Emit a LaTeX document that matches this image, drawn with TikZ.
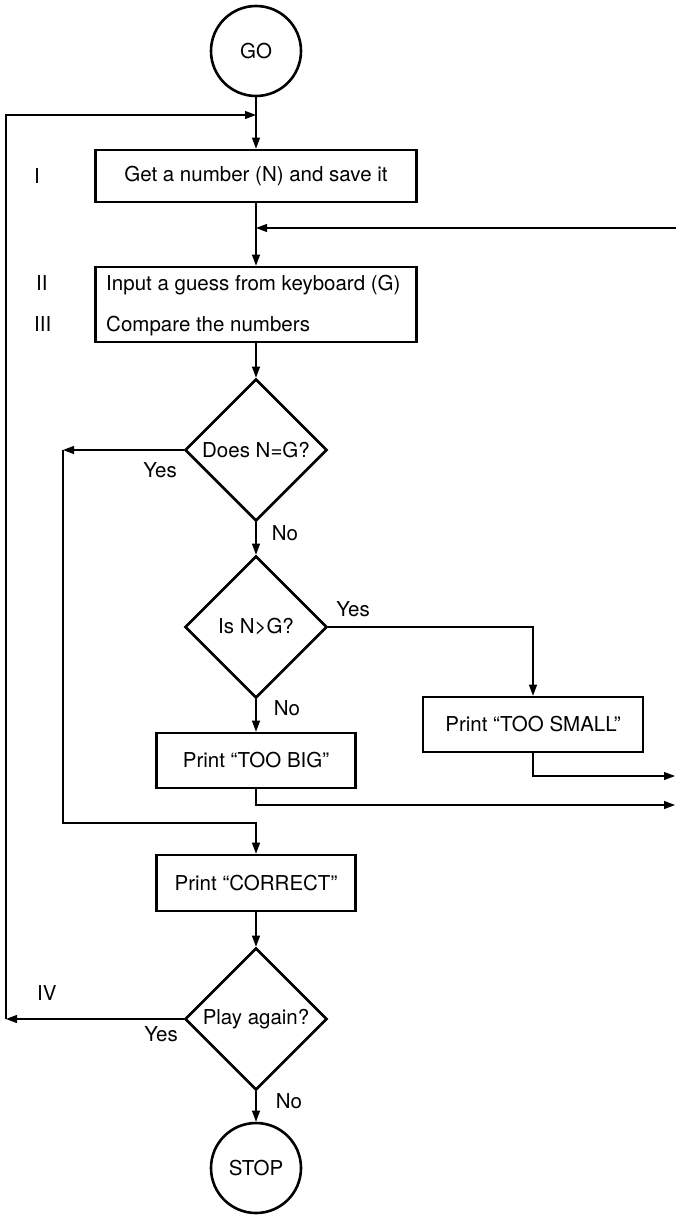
\documentclass[tikz,border=0pt]{standalone}
\usepackage{fontspec}
\setmainfont{TeX Gyre Heros}
\usetikzlibrary{shapes.geometric,arrows.meta}

\begin{document}
\begin{tikzpicture}[x=1pt,y=-1pt,
  every node/.style={font=\fontsize{20.5}{24}\selectfont},
  box/.style={draw, line width=2.6pt, inner sep=0pt},
  decision/.style={draw, diamond, line width=2.6pt, inner sep=0pt,
    minimum width=142pt, minimum height=142pt},
  term/.style={draw, circle, line width=2.6pt, inner sep=0pt, minimum size=90pt},
  wire/.style={line width=1.1pt},
  flow/.style={line width=1.1pt, -{Triangle[length=11pt,width=8pt]}},
  tag/.style={anchor=west, inner sep=0pt}]
  \useasboundingbox (0,0) rectangle (676,1215);

  % main column
  \node[term] (go) at (256,51) {GO};
  \coordinate (top) at (256,115);
  \node[box, minimum width=321pt, minimum height=52pt] (b1) at (256,176)
    {Get a number (N) and save it};
  \coordinate (mid) at (256,228);
  \coordinate (rin) at (676,228);
  \node[box, minimum width=321pt, minimum height=75pt] (b2) at (256,304.5) {};
  \node[anchor=base west, inner sep=0pt] (t2) at (106,290) {Input a guess from keyboard (G)};
  \node[anchor=base west, inner sep=0pt] (t3) at (106,331) {Compare the numbers};
  \node[decision] (d1) at (256,450) {Does N=G?};
  \node[decision] (d2) at (256,627) {Is N>G?};
  \node[box, minimum width=199pt, minimum height=55pt] (big) at (256,760.5) {Print “TOO BIG”};
  \node[box, minimum width=220pt, minimum height=55pt] (small) at (533,724.5) {Print “TOO SMALL”};
  \node[box, minimum width=199pt, minimum height=56pt] (ok) at (256,883) {Print “CORRECT”};
  \node[decision] (d3) at (256,1019) {Play again?};
  \node[term] (stop) at (256,1168) {STOP};

  % step numbers
  \node[tag] (s1) at (34,176) {I};
  \node[tag] (s2) at (36,283) {II};
  \node[tag] (s3) at (34,324) {III};
  \node[tag] (s4) at (37,993) {IV};

  % turning points
  \coordinate (yc) at (63,450);
  \coordinate (yj) at (256,823);
  \coordinate (loopc) at (6,1019);
  \coordinate (ltop) at (6,115);
  \coordinate (rs) at (675,776);
  \coordinate (rb) at (675,805);

  % connectors
  \draw[wire] (go) -- (top);
  \draw[flow] (top) -- (b1);
  \draw[wire] (b1) -- (mid);
  \draw[flow] (mid) -- (b2);
  \draw[flow] (rin) -- (mid);
  \draw[flow] (b2) -- (d1);
  \draw[flow] (d1.west) -- (yc);
  \draw[flow] (yc) |- (yj) -- (ok);
  \draw[flow] (d1) -- (d2);
  \draw[flow] (d2.east) -| (small);
  \draw[flow] (d2) -- (big);
  \draw[flow] (small) |- (rs);
  \draw[flow] (big) |- (rb);
  \draw[flow] (ok) -- (d3);
  \draw[flow] (d3) -- (stop);
  \draw[flow] (d3.west) -- (loopc);
  \draw[flow] (loopc) -- (ltop) -- (top);

  % branch labels
  \node (yes1) at (160,470) {Yes};
  \node (no1) at (285,533) {No};
  \node (yes2) at (353,609) {Yes};
  \node (no2) at (287,708) {No};
  \node (yes3) at (161,1034) {Yes};
  \node (no3) at (289,1101) {No};
\end{tikzpicture}
\end{document}
